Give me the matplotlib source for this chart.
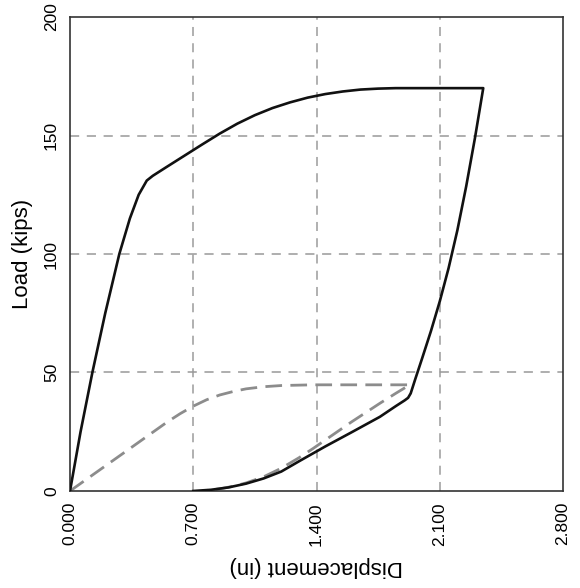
#!/usr/bin/env python3
"""Load-displacement hysteresis: solid and dashed response curves."""

import matplotlib
matplotlib.use('Agg')
import matplotlib.pyplot as plt

plt.rcParams['font.family'] = ['Liberation Sans', 'DejaVu Sans']

# solid curve: loading branch then unloading branch (in, kips)
solid_x = [0, 0.06, 0.127, 0.20, 0.28, 0.34, 0.39, 0.436,
           0.47, 0.55, 0.65, 0.75, 0.85, 0.95, 1.05, 1.15, 1.25, 1.35, 1.45,
           1.55, 1.65, 1.75, 1.85, 2.347,
           2.30, 2.25, 2.20, 2.15, 2.10, 2.05, 2.00, 1.96, 1.935, 1.92, 1.90,
           1.85, 1.76, 1.60, 1.45, 1.30, 1.20, 1.10, 1.00, 0.90, 0.80, 0.70]
solid_y = [0, 25, 50, 75, 100, 115, 125, 131,
           133, 136.8, 141.5, 146.2, 150.8, 155, 158.6, 161.6, 164, 166, 167.5,
           168.6, 169.4, 169.8, 170, 170,
           149, 128.5, 110, 94, 80, 67.5, 56, 47, 41.2, 39.3, 38.2,
           35.8, 31.3, 24.8, 18.8, 12.5, 8.2, 5.3, 3.1, 1.5, 0.5, 0]

# dashed curve: loading branch then unloading branch
dashed_x = [0, 0.30, 0.55, 0.625, 0.70, 0.776, 0.85, 0.928, 1.0, 1.1, 1.2,
            1.38, 1.93,
            1.85, 1.76, 1.60, 1.45, 1.382, 1.30, 1.20, 1.10, 1.00, 0.928,
            0.85, 0.75]
dashed_y = [0, 15.8, 29.0, 32.6, 35.8, 38.5, 40.5, 42.0, 43.1, 44.0, 44.5,
            44.8, 44.8,
            41.2, 37.0, 29.2, 21.5, 18.0, 14.0, 9.6, 6.0, 3.4, 2.0,
            0.9, 0]

x_ticks = [0.0, 0.7, 1.4, 2.1, 2.8]
x_tick_labels = ['0.000', '0.700', '1.400', '2.100', '2.800']
y_ticks = [0, 50, 100, 150, 200]


def main():
    fig = plt.figure(figsize=(5.8, 5.88), dpi=100)
    ax = fig.add_axes([0.1207, 0.165, 0.85, 0.806])

    # grid
    for xv in x_ticks[1:-1]:
        ax.axvline(xv, color='#aaaaaa', lw=1.3, ls=(0, (5, 4)), zorder=1)
    for yv in y_ticks[1:-1]:
        ax.axhline(yv, color='#999999', lw=1.1, ls=(0, (6, 5)), zorder=1)

    ax.plot(dashed_x, dashed_y, color='#8c8c8c', lw=2.0,
            ls=(0, (6, 3)), zorder=2, solid_joinstyle='round')
    ax.plot(solid_x, solid_y, color='#111111', lw=1.9, zorder=3,
            solid_joinstyle='round')

    ax.set_xlim(0, 2.8)
    ax.set_ylim(0, 200)
    ax.set_xticks(x_ticks)
    ax.set_xticklabels(x_tick_labels, rotation=90, fontsize=12.5)
    ax.set_yticks(y_ticks)
    ax.set_yticklabels([str(v) for v in y_ticks], rotation=90,
                       va='center', fontsize=12.5)
    ax.tick_params(length=0, pad=8)

    for s in ax.spines.values():
        s.set_color('#333333')
        s.set_linewidth(1.2)

    ax.set_xlabel('Displacement (in)', fontsize=16, rotation=180)
    ax.xaxis.set_label_coords(0.5, -0.16)
    ax.xaxis.label.set_va('center')
    ax.set_ylabel('Load (kips)', fontsize=16)
    ax.yaxis.set_label_coords(-0.097, 0.5)
    ax.yaxis.label.set_va('center')

    fig.savefig('out.png', dpi=100)
    plt.close(fig)


if __name__ == '__main__':
    main()
